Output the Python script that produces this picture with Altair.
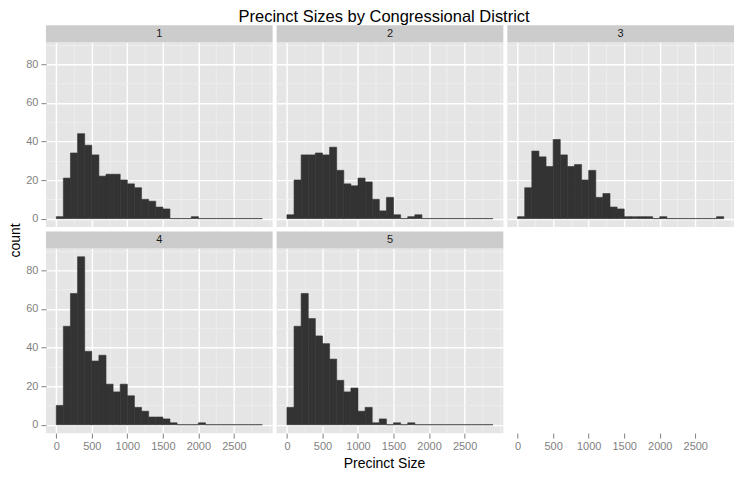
import altair as alt
import pandas as pd

# ---- data (29 bins of width 100, 0..2900) ----
district_labels = ["1", "2", "3", "4", "5"]
bin_starts = [0, 100, 200, 300, 400, 500, 600, 700, 800, 900, 1000, 1100, 1200, 1300,
              1400, 1500, 1600, 1700, 1800, 1900, 2000, 2100, 2200, 2300, 2400, 2500,
              2600, 2700, 2800]
bin_width = 100
counts_1 = [1, 21, 34, 44, 38, 33, 22, 23, 23, 20, 18, 16, 10, 9, 6, 5, 0, 0, 0, 1,
            0, 0, 0, 0, 0, 0, 0, 0, 0]
counts_2 = [2, 20, 33, 33, 34, 33, 37, 25, 18, 17, 21, 19, 10, 4, 11, 2, 0, 1, 2, 0,
            0, 0, 0, 0, 0, 0, 0, 0, 0]
counts_3 = [1, 16, 35, 32, 27, 41, 33, 27, 28, 20, 25, 11, 13, 6, 5, 1, 1, 1, 1, 0,
            1, 0, 0, 0, 0, 0, 0, 0, 1]
counts_4 = [10, 51, 68, 87, 38, 33, 36, 21, 17, 21, 15, 9, 7, 4, 4, 3, 1, 0, 0, 0,
            1, 0, 0, 0, 0, 0, 0, 0, 0]
counts_5 = [9, 51, 68, 55, 46, 42, 34, 23, 17, 19, 7, 9, 1, 3, 0, 1, 0, 1, 0, 0,
            0, 0, 0, 0, 0, 0, 0, 0, 0]
all_counts = [counts_1, counts_2, counts_3, counts_4, counts_5]

x_ticks = [0, 250, 500, 750, 1000, 1250, 1500, 1750, 2000, 2250, 2500, 2750, 3000]
y_ticks = [0, 10, 20, 30, 40, 50, 60, 70, 80, 90]

# ---- layout / style ----
W, H = 227, 185
STRIP = 17
FONT = "Liberation Sans"
X_DOM = [-145, 3045]
Y_DOM = [-4.35, 91.35]
X_MAJOR = "datum.value % 500 === 0 && datum.value < 3000"
Y_MAJOR = "datum.value % 20 === 0"


def grid_props(major_test):
    return dict(
        grid=True,
        gridColor={"condition": {"test": major_test, "value": "#FFFFFF"}, "value": "#F2F2F2"},
        gridWidth={"condition": {"test": major_test, "value": 1.4}, "value": 0.7},
        gridOpacity=1,
        domain=False,
    )


def x_axis(show, title=None, grid=True):
    props = dict(values=x_ticks, domain=False, title=title)
    if grid:
        props.update(grid_props(X_MAJOR))
    else:
        props.update(grid=False)
    if show:
        props.update(
            labels=True, ticks=True, tickSize=5, tickWidth=1,
            tickColor={"condition": {"test": X_MAJOR, "value": "#7F7F7F"}, "value": "transparent"},
            format="d",
            labelExpr=X_MAJOR + " ? datum.label : ''",
            labelColor="#7F7F7F", labelFontSize=11, labelPadding=2,
            labelFlush=False, labelOverlap=False,
        )
        if title:
            props.update(
                titleFontSize=14, titleFontWeight="normal", titleColor="#000000",
                titlePadding=5, titleX=W / 2 - 6,
            )
    else:
        props.update(labels=False, ticks=False)
    return alt.Axis(**props)


def y_axis(show, title=None):
    props = dict(values=y_ticks, title=title)
    props.update(grid_props(Y_MAJOR))
    if show:
        props.update(
            labels=True, ticks=True, tickSize=5, tickWidth=1,
            tickColor={"condition": {"test": Y_MAJOR, "value": "#7F7F7F"}, "value": "transparent"},
            labelExpr=Y_MAJOR + " ? datum.label : ''",
            labelColor="#7F7F7F", labelFontSize=11, labelPadding=3,
            labelOverlap=False,
        )
        if title:
            props.update(
                titleFontSize=14, titleFontWeight="normal", titleColor="#000000",
                titleX=-26.7, titleY=-8.4, titleBaseline="alphabetic",
                titleAngle=270, titleAlign="center",
            )
    else:
        props.update(labels=False, ticks=False)
    return alt.Axis(**props)


def panel_df(counts):
    return pd.DataFrame({
        "start": bin_starts,
        "end": [s + bin_width for s in bin_starts],
        "count": counts,
    })


def strip_layers(label):
    sdf = pd.DataFrame({"label": [label]})
    rect = alt.Chart(sdf).mark_rect(color="#CCCCCC").encode(
        x=alt.value(0), x2=alt.value(W), y=alt.value(-STRIP), y2=alt.value(0)
    )
    txt = alt.Chart(sdf).mark_text(fontSize=11, color="#1A1A1A", font=FONT).encode(
        x=alt.value(W / 2), y=alt.value(-STRIP / 2), text="label:N"
    )
    return [rect, txt]


def panel(i, show_x, show_y, x_title=None, y_title=None):
    df = panel_df(all_counts[i])
    bars = alt.Chart(df).mark_rect(color="#333333", stroke="#333333", strokeWidth=0.6).encode(
        x=alt.X("start:Q", scale=alt.Scale(domain=X_DOM, nice=False, zero=False),
                axis=x_axis(show_x, x_title)),
        x2="end:Q",
        y=alt.Y("count:Q", scale=alt.Scale(domain=Y_DOM, nice=False, zero=False),
                axis=y_axis(show_y, y_title)),
        y2=alt.datum(0),
    )
    return alt.layer(bars, *strip_layers(district_labels[i])).properties(width=W, height=H)


p1 = panel(0, False, True)
p2 = panel(1, False, False)
p3 = panel(2, False, False)
p4 = panel(3, True, True, y_title="count")
p5 = panel(4, True, False, x_title="Precinct Size")

# empty sixth cell: only the x axis of column 3
empty = alt.Chart(panel_df(counts_3)).mark_rect(opacity=0).encode(
    x=alt.X("start:Q", scale=alt.Scale(domain=X_DOM, nice=False, zero=False),
            axis=x_axis(True, None, grid=False)),
    x2="end:Q",
    y=alt.Y("count:Q", scale=alt.Scale(domain=Y_DOM, nice=False, zero=False), axis=None),
).properties(width=W, height=H, view=alt.ViewBackground(fill="transparent", stroke="transparent"))

chart = alt.concat(
    p1, p2, p3, p4, p5, empty, columns=3,
    spacing={"row": STRIP + 4.4, "column": 4},
).properties(
    bounds="flush",
    padding=0,
    title=alt.TitleParams(
        "Precinct Sizes by Congressional District",
        fontSize=16.5, fontWeight="normal", color="#000000", font=FONT,
        anchor="middle", offset=0, dx=13,
    ),
).configure(font=FONT).configure_view(fill="#E5E5E5", strokeWidth=0)

chart.save("out.html", embed_options={"renderer": "svg", "actions": False})
